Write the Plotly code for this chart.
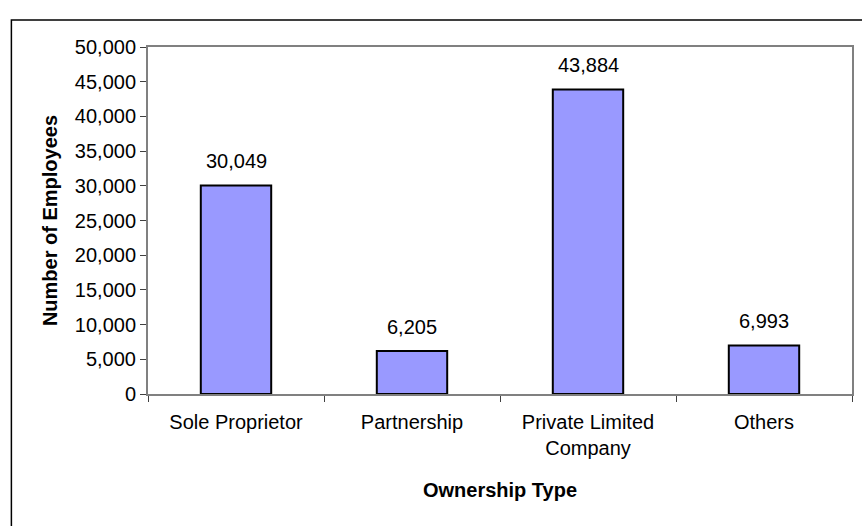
import plotly.graph_objects as go

categories = ["Sole Proprietor", "Partnership", "Private Limited<br>Company", "Others"]
employees = [30049, 6205, 43884, 6993]

W, H = 862, 526
L, R, T, B = 148, 8, 47, 132
pw, ph = W - L - R, H - T - B
FONT = "Liberation Sans, Arial"

def px_x(x):
    return (x - L) / pw

def px_y(y):
    return (H - B - y) / ph

fig = go.Figure(
    go.Bar(
        x=categories,
        y=employees,
        marker=dict(color="#9999FF", line=dict(color="black", width=2)),
        hoverinfo="x+y",
    )
)

# value labels above each bar
for cat, val in zip(categories, employees):
    fig.add_annotation(
        x=cat, y=val, text=f"{val:,}", showarrow=False,
        yanchor="middle", yshift=24,
        font=dict(family=FONT, size=20, color="black"),
    )

fig.update_layout(
    width=W,
    height=H,
    margin=dict(l=L, r=R, t=T, b=B),
    paper_bgcolor="white",
    plot_bgcolor="white",
    bargap=0.6,
    showlegend=False,
    font=dict(family=FONT, size=20, color="black"),
    xaxis=dict(
        showline=True,
        linecolor="#808080",
        linewidth=2,
        mirror=True,
        ticks="outside",
        tickson="boundaries",
        ticklen=6,
        tickcolor="#404040",
        ticklabelstandoff=9,
        title=dict(text="<b>Ownership Type</b>", standoff=25,
                   font=dict(size=20)),
    ),
    yaxis=dict(
        range=[0, 50000],
        dtick=5000,
        tickformat=",",
        showline=True,
        linecolor="#808080",
        linewidth=2,
        mirror=True,
        ticks="outside",
        ticklen=6,
        tickcolor="#404040",
        showgrid=False,
        zeroline=False,
        title=dict(text="<b>Number of Employees</b>", standoff=12,
                   font=dict(size=20)),
    ),
    shapes=[
        dict(
            type="rect",
            xref="paper",
            yref="paper",
            x0=px_x(11),
            x1=px_x(880),
            y0=px_y(560),
            y1=px_y(20),
            line=dict(color="black", width=1.5),
            fillcolor="rgba(0,0,0,0)",
            layer="below",
        )
    ],
)

fig.write_html("out.html")
